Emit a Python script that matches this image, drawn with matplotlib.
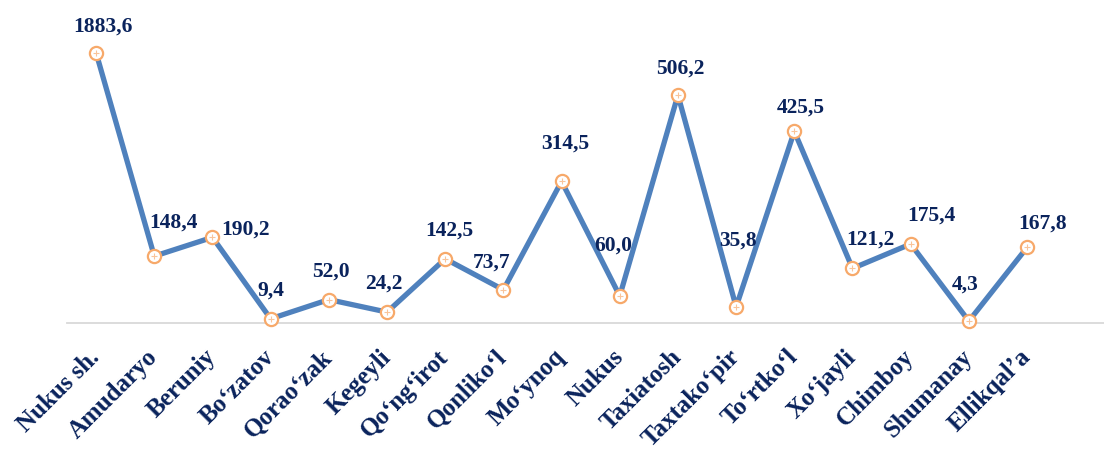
import matplotlib.pyplot as plt

# districts and values (the first one is drawn cut at the top of the axis)
districts = ["Nukus sh.", "Amudaryo", "Beruniy", "Bo‘zatov", "Qorao‘zak",
             "Kegeyli", "Qo‘ng‘irot", "Qonliko‘l", "Mo‘ynoq", "Nukus",
             "Taxiatosh", "Taxtako‘pir", "To‘rtko‘l", "Xo‘jayli", "Chimboy",
             "Shumanay", "Ellikqal’a"]
values = [1883.6, 148.4, 190.2, 9.4, 52.0, 24.2, 142.5, 73.7, 314.5, 60.0,
          506.2, 35.8, 425.5, 121.2, 175.4, 4.3, 167.8]

y_top = 600
plot_y = [min(v, y_top) for v in values]

# label offsets in pixels (dx, dy) from the marker
label_off = [(7, 26), (19, 34), (33, 8), (0, 28), (2, 28), (-3, 29), (4, 28),
             (-12, 27), (4, 38), (-7, 50), (2, 26), (2, 66), (6, 24), (18, 29),
             (21, 28), (-4, 36), (16, 24)]

navy = "#0A235C"
line_c = "#4F81BD"
mark_c = "#F7A96A"
serif = ["Liberation Serif", "DejaVu Serif"]

fig = plt.figure(figsize=(11.04, 4.5), dpi=100)
ax = fig.add_axes([67 / 1104, (450 - 323) / 450, (1104 - 67) / 1104, 0.6005])

x = list(range(len(values)))
ax.plot(x, plot_y, color=line_c, lw=3.8, zorder=2, clip_on=False)
ax.plot(x, plot_y, ls="none", marker="o", ms=9.5, mfc="white", mec=mark_c,
        mew=1.6, zorder=3, clip_on=False)
ax.plot(x, plot_y, ls="none", marker="+", ms=4, mec="#F9C49A", mew=0.8,
        zorder=4, clip_on=False)

for xi, yi, v, (dx, dy) in zip(x, plot_y, values, label_off):
    ax.annotate(f"{v:.1f}".replace(".", ","), (xi, yi),
                xytext=(dx * 0.72, dy * 0.72), textcoords="offset points",
                ha="center", va="center", fontsize=15.5, fontweight="bold",
                color=navy, family=serif)

ax.set_xlim(-0.5, (1104 - 96) / 58.19)
ax.set_ylim(0, y_top)
ax.set_yticks([])
ax.set_xticks(x)
ax.set_xticklabels(districts, rotation=45, ha="right", va="center",
                   rotation_mode="anchor", fontsize=18, fontweight="bold",
                   color=navy, family=serif)
ax.tick_params(axis="x", length=0, pad=22)

for s in ["top", "right", "left"]:
    ax.spines[s].set_visible(False)
ax.spines["bottom"].set_color("#D9D9D9")
ax.spines["bottom"].set_linewidth(1.3)

fig.savefig("out.png", dpi=100)
